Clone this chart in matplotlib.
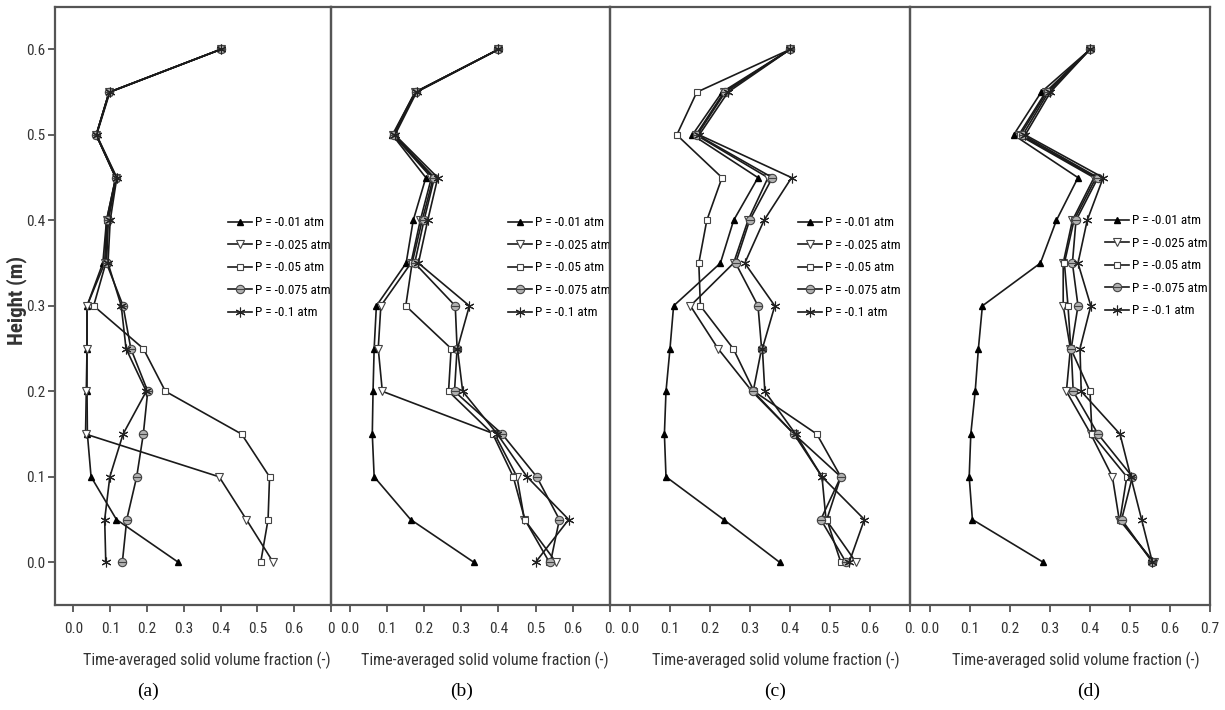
import matplotlib
matplotlib.use("Agg")
import numpy as np
import matplotlib.pyplot as plt
from matplotlib.path import Path
from matplotlib import font_manager
from matplotlib.font_manager import FontProperties

# heights of the sampling points (m)
heights = [0.0, 0.05, 0.10, 0.15, 0.20, 0.25, 0.30, 0.35, 0.40, 0.45, 0.50, 0.55, 0.60]

labels = ["P = -0.01 atm", "P = -0.025 atm", "P = -0.05 atm",
          "P = -0.075 atm", "P = -0.1 atm"]

# panel (a)
a_001 = [0.285, 0.117, 0.048, 0.038, 0.037, 0.037, 0.037, 0.080, 0.090, 0.115, 0.062, 0.097, 0.40]
a_0025 = [0.543, 0.470, 0.396, 0.033, 0.035, 0.037, 0.037, 0.085, 0.090, 0.115, 0.062, 0.097, 0.40]
a_005 = [0.509, 0.529, 0.533, 0.457, 0.250, 0.190, 0.055, 0.088, 0.092, 0.115, 0.062, 0.097, 0.40]
a_0075 = [0.133, 0.145, 0.172, 0.190, 0.202, 0.156, 0.135, 0.090, 0.095, 0.117, 0.062, 0.098, 0.40]
a_01 = [0.088, 0.085, 0.099, 0.135, 0.198, 0.143, 0.130, 0.094, 0.100, 0.118, 0.063, 0.099, 0.40]

# panel (b)
b_001 = [0.334, 0.164, 0.066, 0.061, 0.063, 0.066, 0.072, 0.152, 0.171, 0.205, 0.115, 0.176, 0.40]
b_0025 = [0.555, 0.470, 0.450, 0.390, 0.088, 0.077, 0.084, 0.165, 0.190, 0.220, 0.117, 0.176, 0.40]
b_005 = [0.537, 0.471, 0.440, 0.385, 0.266, 0.273, 0.151, 0.168, 0.195, 0.225, 0.118, 0.177, 0.40]
b_0075 = [0.540, 0.564, 0.503, 0.410, 0.282, 0.289, 0.284, 0.175, 0.200, 0.228, 0.120, 0.178, 0.40]
b_01 = [0.500, 0.589, 0.477, 0.397, 0.304, 0.290, 0.322, 0.185, 0.210, 0.237, 0.122, 0.180, 0.40]

# panel (c)
c_001 = [0.374, 0.234, 0.090, 0.086, 0.090, 0.100, 0.109, 0.226, 0.259, 0.320, 0.156, 0.230, 0.40]
c_0025 = [0.565, 0.490, 0.480, 0.410, 0.305, 0.220, 0.151, 0.259, 0.295, 0.345, 0.165, 0.235, 0.40]
c_005 = [0.527, 0.492, 0.527, 0.467, 0.310, 0.258, 0.176, 0.172, 0.192, 0.230, 0.117, 0.167, 0.40]
c_0075 = [0.540, 0.477, 0.527, 0.410, 0.308, 0.329, 0.320, 0.264, 0.299, 0.356, 0.168, 0.238, 0.40]
c_01 = [0.548, 0.586, 0.480, 0.414, 0.337, 0.331, 0.362, 0.287, 0.335, 0.404, 0.173, 0.245, 0.40]

# panel (d)
d_001 = [0.283, 0.106, 0.098, 0.102, 0.113, 0.121, 0.131, 0.276, 0.316, 0.370, 0.209, 0.278, 0.40]
d_0025 = [0.560, 0.473, 0.456, 0.402, 0.341, 0.351, 0.333, 0.333, 0.356, 0.410, 0.222, 0.289, 0.40]
d_005 = [0.558, 0.475, 0.492, 0.405, 0.400, 0.352, 0.345, 0.336, 0.360, 0.415, 0.226, 0.292, 0.40]
d_0075 = [0.556, 0.479, 0.506, 0.420, 0.358, 0.353, 0.370, 0.356, 0.365, 0.420, 0.232, 0.296, 0.40]
d_01 = [0.556, 0.529, 0.502, 0.475, 0.378, 0.375, 0.402, 0.370, 0.393, 0.433, 0.238, 0.301, 0.40]

xticks = [0.0, 0.1, 0.2, 0.3, 0.4, 0.5, 0.6, 0.7]
yticks = [0.0, 0.1, 0.2, 0.3, 0.4, 0.5, 0.6]
panel_tags = ["(a)", "(b)", "(c)", "(d)"]
last_xlabel = ["0", "0.", "0.", "0.7"]


def find_narrow(bold=False):
    # look for a condensed / narrow sans face among installed fonts
    prefs = ["Liberation Sans Narrow", "Arial Narrow", "Roboto Condensed",
             "Open Sans Condensed", "DejaVu Sans", "Noto Sans", "Roboto", "Open Sans"]
    best, best_rank = None, 99
    for f in font_manager.fontManager.ttflist:
        if f.style != "normal":
            continue
        w = f.weight if isinstance(f.weight, int) else {"bold": 700, "normal": 400}.get(f.weight, 400)
        if bold and w < 600:
            continue
        if not bold and (w < 350 or w > 550):
            continue
        stretch = str(f.stretch)
        narrowish = ("Narrow" in f.name or "Condensed" in f.name
                     or stretch in ("condensed", "semi-condensed"))
        if not narrowish:
            continue
        rank = 50
        for k, p in enumerate(prefs):
            if f.name.startswith(p):
                rank = k
                break
        if rank < best_rank:
            best, best_rank = f.fname, rank
    return best


reg_path = find_narrow()
bold_path = find_narrow(bold=True)
shrink = 1.0 if reg_path else 0.86


def fp(size, bold=False):
    path = bold_path if bold else reg_path
    if path:
        return FontProperties(fname=path, size=size)
    return FontProperties(family="Liberation Sans", size=size * shrink,
                          weight="bold" if bold else "normal")


# circle with a bar through it, like Origin's half-filled circle
circ_bar = Path.make_compound_path(Path.unit_circle(),
                                   Path([[-1, 0], [1, 0]], [Path.MOVETO, Path.LINETO]))
styles = [
    dict(marker="^", mfc="black", mec="black", ms=5),
    dict(marker="v", mfc="white", mec="#444444", ms=5.5, mew=0.8),
    dict(marker="s", mfc="white", mec="#444444", ms=4.5, mew=0.8),
    dict(marker=circ_bar, mfc="#b0b0b0", mec="#444444", ms=6, mew=0.8),
    dict(marker=(6, 2, 0), mec="#222222", ms=7, mew=0.8),
]

W, H = 1225, 710
fig = plt.figure(figsize=(W / 100, H / 100), dpi=100)

# panel edges in pixels (left, right); top/bottom shared
edges = [(55, 331), (331, 610), (610, 910), (910, 1210)]
top_px, bot_px = 6.7, 605
legend_px = [(228, 223), (508, 223), (798, 223), (1105, 221)]
xlabel_px = [207, 485, 776, 1076]
tag_px = [148, 462, 775, 1089]

panels = [
    [a_001, a_0025, a_005, a_0075, a_01],
    [b_001, b_0025, b_005, b_0075, b_01],
    [c_001, c_0025, c_005, c_0075, c_01],
    [d_001, d_0025, d_005, d_0075, d_01],
]

fs_leg = 9.5
for i, series in enumerate(panels):
    l, r = edges[i]
    ax = fig.add_axes([l / W, 1 - bot_px / H, (r - l) / W, (bot_px - top_px) / H])
    ax.patch.set_visible(False)
    for vals, lab, st in zip(series, labels, styles):
        ax.plot(vals, heights, color="#1a1a1a", lw=1.2, label=lab, **st)
    ax.set_xlim(-0.05, 0.7)
    ax.set_ylim(-0.05, 0.65)
    ax.set_xticks(xticks)
    ax.set_xticklabels(["%.1f" % t for t in xticks[:-1]] + [last_xlabel[i]],
                       fontproperties=fp(11), color="#333333")
    if i == 0:
        ax.set_yticks(yticks)
        ax.set_yticklabels(["%.1f" % t for t in yticks], fontproperties=fp(11),
                           color="#333333")
        ax.tick_params(axis="y", direction="out", length=5, width=1.2,
                       color="#444444", pad=2)
    else:
        ax.set_yticks([])
    ax.tick_params(axis="x", direction="out", length=5, width=1.2,
                   color="#444444", pad=7)
    for sp in ax.spines.values():
        sp.set_color("#555555")
        sp.set_linewidth(1.6)

    lx, ly = legend_px[i]
    row_h = fs_leg * shrink * 100 / 72
    leg = ax.legend(loc="upper left",
                    bbox_to_anchor=(lx / W, 1 - (ly - row_h / 2) / H),
                    bbox_transform=fig.transFigure, frameon=False,
                    borderpad=0, borderaxespad=0, handlelength=1.8,
                    handletextpad=0.25, labelspacing=0.72 / shrink,
                    prop=fp(fs_leg))
    leg.set_zorder(20)

    fig.text(xlabel_px[i] / W, 1 - 660 / H,
             "Time-averaged solid volume fraction (-)",
             ha="center", va="center", fontproperties=fp(11.5), color="#333333")
    fig.text(tag_px[i] / W, 1 - 691 / H, panel_tags[i], ha="center", va="center",
             family=["Liberation Serif", "DejaVu Serif"], fontsize=14)

fig.text(17 / W, 1 - 300 / H, "Height (m)", rotation=90, ha="center", va="center",
         fontproperties=fp(15, bold=True), color="#333333")

fig.savefig("out.png", dpi=100)
